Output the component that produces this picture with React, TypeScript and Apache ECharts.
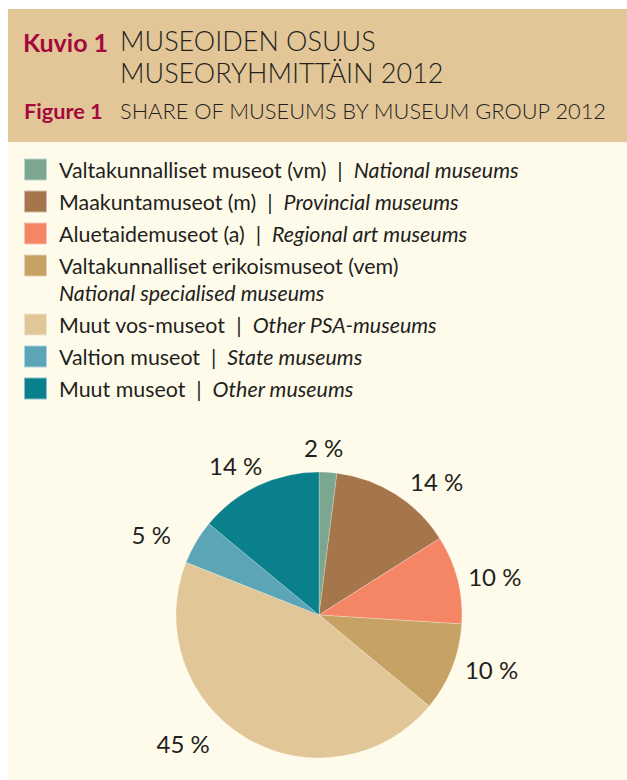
import React, { useEffect, useRef } from "react";
import * as echarts from "echarts";

const namesFi = [
  "Valtakunnalliset museot (vm)",
  "Maakuntamuseot (m)",
  "Aluetaidemuseot (a)",
  "Valtakunnalliset erikoismuseot (vem)",
  "Muut vos-museot",
  "Valtion museot",
  "Muut museot",
];
const namesEn = [
  "National museums",
  "Provincial museums",
  "Regional art museums",
  "National specialised museums",
  "Other PSA-museums",
  "State museums",
  "Other museums",
];
const shares = [2, 14, 10, 10, 45, 5, 14];
const colors = ["#7ba690", "#a5764b", "#f48666", "#c6a265", "#e1c697", "#5ba5b6", "#0a808c"];

const titleLabelFi = "Kuvio 1";
const titleLabelEn = "Figure 1";
const titleFiLines = ["MUSEOIDEN OSUUS", "MUSEORYHMITTÄIN 2012"];
const titleEn = "SHARE OF MUSEUMS BY MUSEUM GROUP 2012";

// style / layout constants
const FONT = "Lato, 'DejaVu Sans', sans-serif";
const TXT = "#231f20";
const CRIMSON = "#a3093d";
const CX = 319;
const CY = 615;
const R = 143;
const LEG_FS = 21.4;
const labelAngleShift = [-2, 9, 2, -4, 16, -5, -4];
const labelRadius = [168, 178, 180, 181, 187, 186, 171];

function makeRich(lh: number) {
  return {
    a: { fontFamily: FONT, fontSize: LEG_FS, color: TXT, padding: [0, 0, 0, 7], lineHeight: lh },
    s: { fontFamily: FONT, fontSize: LEG_FS, color: TXT, lineHeight: lh },
    b: { fontFamily: FONT, fontSize: LEG_FS, color: TXT, fontStyle: "italic", lineHeight: lh },
    b2: { fontFamily: FONT, fontSize: LEG_FS, color: TXT, fontStyle: "italic", padding: [0, 0, 0, 7], lineHeight: lh },
  };
}

function legendFormatter(name: string) {
  const i = namesFi.indexOf(name);
  if (i === 3) return `\n{a|${namesFi[i]}}\n{b2|${namesEn[i]}}`;
  return `{a|${namesFi[i]}}{s|  |  }{b|${namesEn[i]}}`;
}

function makeLegend(items: string[], top: number, lh: number) {
  return {
    data: items,
    orient: "vertical",
    left: 23,
    top,
    padding: 0,
    itemWidth: 23,
    itemHeight: 22,
    itemGap: 32 - lh,
    icon: "rect",
    selectedMode: false,
    formatter: legendFormatter,
    textStyle: { fontFamily: FONT, fontSize: LEG_FS, color: TXT, lineHeight: lh, rich: makeRich(lh) },
  };
}

export default function App() {
  const ref = useRef<HTMLDivElement>(null);
  useEffect(() => {
    if (!ref.current) return;
    const chart = echarts.init(ref.current, undefined, { renderer: "svg" });
    const total = shares.reduce((a, b) => a + b, 0);
    const option = {
      animation: false,
      backgroundColor: "#ffffff",
      graphic: [
        { type: "rect", shape: { x: 8, y: 9, width: 619, height: 133 }, style: { fill: "#e2c698" }, z: -10 },
        { type: "rect", shape: { x: 8, y: 142, width: 619, height: 638 }, style: { fill: "#fffbeb" }, z: -10 },
        { type: "text", x: 23, y: 41.5, style: { text: titleLabelFi, font: `bold 25px ${FONT}`, fill: CRIMSON, verticalAlign: "middle" } },
        { type: "text", x: 120, y: 40.5, style: { text: titleFiLines[0], font: `300 27px ${FONT}`, fill: TXT, verticalAlign: "middle" } },
        { type: "text", x: 120, y: 72, style: { text: titleFiLines[1], font: `300 27px ${FONT}`, fill: TXT, verticalAlign: "middle" } },
        { type: "text", x: 24, y: 111, style: { text: titleLabelEn, font: `bold 21.7px ${FONT}`, fill: CRIMSON, verticalAlign: "middle" } },
        { type: "text", x: 120, y: 110.5, style: { text: titleEn, font: `300 21.8px ${FONT}`, fill: TXT, verticalAlign: "middle" } },
      ],
      legend: [
        makeLegend(namesFi.slice(0, 3), 156.5, 26),
        makeLegend(namesFi.slice(3, 4), 225, 27),
        makeLegend(namesFi.slice(4, 7), 311.5, 26),
      ],
      series: [
        {
          type: "pie",
          center: [CX, CY],
          radius: R,
          startAngle: 90,
          clockwise: true,
          silent: true,
          data: namesFi.map((n, i) => ({ name: n, value: shares[i], itemStyle: { color: colors[i] } })),
          itemStyle: { borderColor: "rgba(255,255,255,0.5)", borderWidth: 0.5 },
          label: {
            show: true,
            formatter: "{c} %",
            fontFamily: FONT,
            fontSize: 24,
            color: TXT,
          },
          labelLine: { show: false },
          labelLayout: (params: any) => {
            const i = params.dataIndex;
            let before = 0;
            for (let k = 0; k < i; k++) before += shares[k];
            const ang = (((before + shares[i] / 2) / total) * 360 + labelAngleShift[i]) * Math.PI / 180;
            return {
              x: CX + labelRadius[i] * Math.sin(ang),
              y: CY - labelRadius[i] * Math.cos(ang),
              align: "center",
              verticalAlign: "middle",
            };
          },
        },
      ],
    };
    chart.setOption(option as any);
    return () => chart.dispose();
  }, []);
  return <div ref={ref} style={{ position: "absolute", left: 0, top: 0, width: 627, height: 780 }} />;
}
